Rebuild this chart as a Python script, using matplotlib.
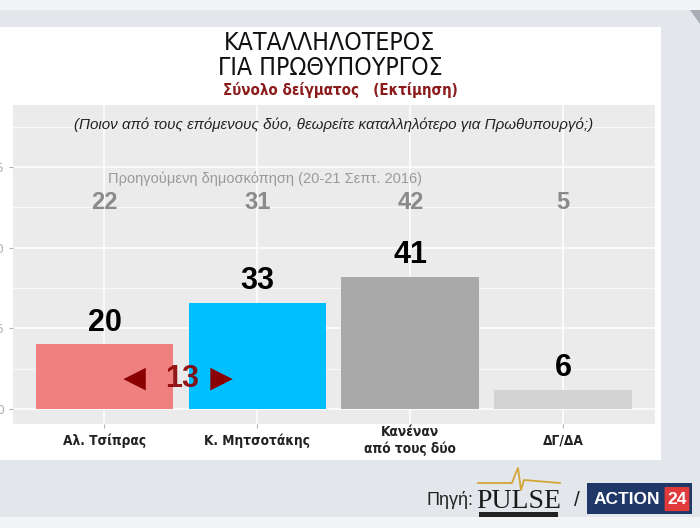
import matplotlib
matplotlib.use('Agg')
import matplotlib.pyplot as plt
import numpy as np
from matplotlib.patches import Rectangle, FancyBboxPatch, Polygon
from matplotlib.lines import Line2D

W, H = 700, 528
COND = ['DejaVu Sans']
SANS = ['Liberation Sans', 'DejaVu Sans']

categories = ['Αλ. Τσίπρας', 'Κ. Μητσοτάκης', 'Κανέναν\nαπό τους δύο', 'ΔΓ/ΔΑ']
values = [20, 33, 41, 6]
previous = [22, 31, 42, 5]
bar_colors = ['#F08080', '#00BFFF', '#A9A9A9', '#D3D3D3']
yticks = [0, 5, 10, 15]
scale = 5  # bars are drawn at value / 5 on the panel scale

def fx(x): return x / W
def fy(y): return 1 - y / H

fig = plt.figure(figsize=(7, 5.28), dpi=100)
fig.patch.set_facecolor('#e3e6ea')
# page strips, corner and white card
fig.add_artist(Rectangle((0, fy(10)), 1, 10 / H, transform=fig.transFigure, fc='#f3f4f6', ec='none', zorder=-2))
fig.add_artist(Rectangle((0, 0), 1, (H - 517) / H, transform=fig.transFigure, fc='#f3f4f6', ec='none', zorder=-2))
fig.add_artist(Polygon([(fx(690), fy(10)), (1, fy(10)), (1, fy(24))], closed=True, transform=fig.transFigure,
                       fc='#a8adb3', ec='none', zorder=-2))
fig.add_artist(Rectangle((0, fy(460)), fx(661), (460 - 27) / H, transform=fig.transFigure, fc='white', ec='none', zorder=-2))

# titles
fig.text(fx(330), fy(43), 'ΚΑΤΑΛΛΗΛΟΤΕΡΟΣ', ha='center', va='center', fontsize=17.8, family=COND,
         stretch='condensed', color='#111111')
fig.text(fx(330), fy(68), 'ΓΙΑ ΠΡΩΘΥΠΟΥΡΓΟΣ', ha='center', va='center', fontsize=17.8, family=COND,
         stretch='condensed', color='#111111')
fig.text(fx(340), fy(90), 'Σύνολο δείγματος   (Εκτίμηση)', ha='center', va='center', fontsize=10.8,
         family=COND, stretch='condensed', fontweight='bold', color='#8B1A1A')

ax = fig.add_axes([fx(12.7), fy(424), fx(655 - 12.7), (424 - 105) / H])
ax.set_facecolor('#EBEBEB')
x = np.arange(1, len(categories) + 1)
heights = np.array(values) / scale
ax.bar(x, heights, width=0.9, color=bar_colors, zorder=2)
ax.set_xlim(0.4, 4.6)
ax.set_ylim(-0.93, 18.85)
ax.set_xticks(x)
ax.set_xticklabels(categories, family=COND, stretch='condensed', fontweight='bold', fontsize=9.8,
                   color='#222222', linespacing=1.25, va='center')
ax.set_yticks(yticks)
ax.set_yticklabels([str(t) for t in yticks], fontsize=9, color='#b0b0b0')
ax.set_yticks([t + 2.5 for t in yticks], minor=True)
ax.grid(which='major', color='white', lw=1.1, zorder=0)
ax.grid(which='minor', axis='y', color='white', lw=0.5, zorder=0)
ax.set_axisbelow(True)
ax.tick_params(axis='both', which='major', color='#b0b0b0', length=3, pad=3)
ax.tick_params(axis='x', pad=9)
ax.tick_params(which='minor', length=0)
for s in ax.spines.values():
    s.set_visible(False)

# value labels
for xi, h, v in zip(x, heights, values):
    ax.text(xi, h + 1.35, str(v), ha='center', va='center', fontsize=22, fontweight='bold',
            family=SANS, color='black', zorder=3)
# previous poll
for xi, p in zip(x, previous):
    ax.text(xi, 12.8, str(p), ha='center', va='center', fontsize=17, fontweight='bold',
            family=SANS, color='#8a8a8a', zorder=3)
ax.text(2.05, 14.3, 'Προηγούμενη δημοσκόπηση (20-21 Σεπτ. 2016)', ha='center', va='center',
        fontsize=10.5, family=SANS, color='#9a9a9a', zorder=3)
ax.text(2.5, 17.6, '(Ποιον από τους επόμενους δύο, θεωρείτε καταλληλότερο για Πρωθυπουργό;)',
        ha='center', va='center', fontsize=10.9, family=SANS, style='italic', color='#222222', zorder=3)
# gap between the two leaders
gap = values[1] - values[0]
ax.text(1.195, 1.85, '◄', ha='center', va='center', fontsize=27, family=SANS, color='#8B0000', zorder=4)
ax.text(1.51, 1.85, str(gap), ha='center', va='center', fontsize=22, fontweight='bold', family=SANS,
        color='#8B0000', alpha=0.9, zorder=4)
ax.text(1.765, 1.85, '►', ha='center', va='center', fontsize=27, family=SANS, color='#8B0000', zorder=4)

# source line
fig.text(fx(450), fy(500), 'Πηγή:', ha='center', va='center', fontsize=13, family=SANS, color='#222222')
fig.add_artist(Line2D([fx(478), fx(512), fx(515), fx(518), fx(521), fx(524), fx(560)],
                      [fy(483), fy(483), fy(475), fy(468), fy(490), fy(480), fy(483)],
                      transform=fig.transFigure, color='#d4a437', lw=1.3))
fig.text(fx(519), fy(501), 'PULSE', ha='center', va='center', fontsize=20, family=['Liberation Serif', 'DejaVu Serif'],
         color='#1a1a1a')
fig.add_artist(Rectangle((fx(479), fy(517)), fx(79), 5 / H, transform=fig.transFigure, fc='#222222', ec='none'))
fig.text(fx(577), fy(500), '/', ha='center', va='center', fontsize=15, family=SANS, color='#222222')
fig.add_artist(Rectangle((fx(587), fy(514)), fx(105), 31 / H, transform=fig.transFigure, fc='#1f3868', ec='none'))
fig.text(fx(627), fy(499), 'ACTION', ha='center', va='center', fontsize=12.5, fontweight='bold', family=SANS, color='white')
fig.add_artist(FancyBboxPatch((fx(666), fy(510)), fx(22), 22 / H, boxstyle='round,pad=0.002',
                              transform=fig.transFigure, fc='#e03a3a', ec='none'))
fig.text(fx(677), fy(499), '24', ha='center', va='center', fontsize=12.5, fontweight='bold', family=SANS, color='white')

fig.savefig('out.png', dpi=100, facecolor=fig.get_facecolor())
